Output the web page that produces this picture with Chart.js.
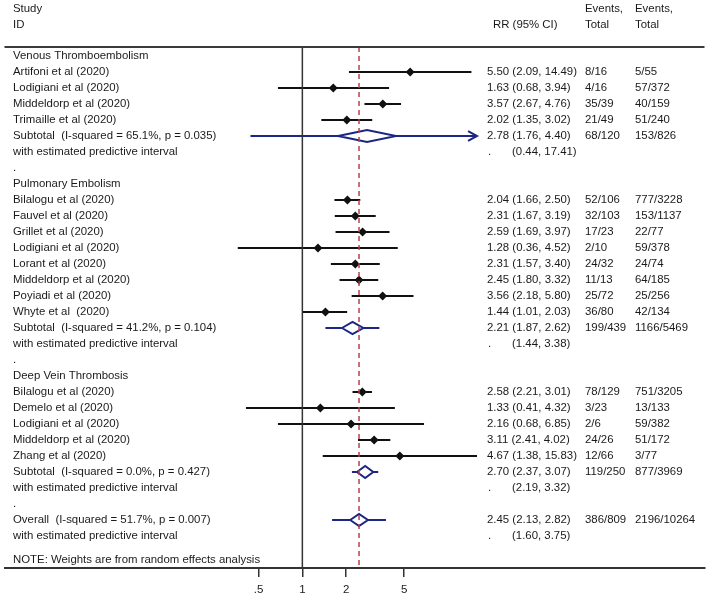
<!DOCTYPE html>
<html>
<head>
<meta charset="utf-8">
<script src="https://cdn.jsdelivr.net/npm/chart.js@4.4.0/dist/chart.umd.min.js"></script>
<style>
  body { margin: 0; background: #fff; }
  #wrap { width: 709px; height: 596px; }
</style>
</head>
<body>
<div id="wrap"><canvas id="forest" width="709" height="596"></canvas></div>
<script>
// study level data (RR with 95% CI, events/total in cases and controls)
var groupNames = ['Venous Thromboembolism', 'Pulmonary Embolism', 'Deep Vein Thrombosis'];
var studyNames = [
  'Artifoni et al (2020)', 'Lodigiani et al (2020)', 'Middeldorp et al (2020)', 'Trimaille et al (2020)',
  'Bilalogu et al (2020)', 'Fauvel et al (2020)', 'Grillet et al (2020)', 'Lodigiani et al (2020)',
  'Lorant et al (2020)', 'Middeldorp et al (2020)', 'Poyiadi et al (2020)', 'Whyte et al  (2020)',
  'Bilalogu et al (2020)', 'Demelo et al (2020)', 'Lodigiani et al (2020)', 'Middeldorp et al (2020)', 'Zhang et al (2020)'
];
var studyGroup = [0, 0, 0, 0, 1, 1, 1, 1, 1, 1, 1, 1, 2, 2, 2, 2, 2];
var rr     = [5.50, 1.63, 3.57, 2.02, 2.04, 2.31, 2.59, 1.28, 2.31, 2.45, 3.56, 1.44, 2.58, 1.33, 2.16, 3.11, 4.67];
var ciLow  = [2.09, 0.68, 2.67, 1.35, 1.66, 1.67, 1.69, 0.36, 1.57, 1.80, 2.18, 1.01, 2.21, 0.41, 0.68, 2.41, 1.38];
var ciHigh = [14.49, 3.94, 4.76, 3.02, 2.50, 3.19, 3.97, 4.52, 3.40, 3.32, 5.80, 2.03, 3.01, 4.32, 6.85, 4.02, 15.83];
var eventsCases = ['8/16', '4/16', '35/39', '21/49', '52/106', '32/103', '17/23', '2/10', '24/32', '11/13', '25/72', '36/80',
  '78/129', '3/23', '2/6', '24/26', '12/66'];
var eventsControls = ['5/55', '57/372', '40/159', '51/240', '777/3228', '153/1137', '22/77', '59/378', '24/74', '64/185',
  '25/256', '42/134', '751/3205', '13/133', '59/382', '51/172', '3/77'];

// pooled estimates: three subtotals, then overall
var pooledLabels = [
  'Subtotal  (I-squared = 65.1%, p = 0.035)',
  'Subtotal  (I-squared = 41.2%, p = 0.104)',
  'Subtotal  (I-squared = 0.0%, p = 0.427)',
  'Overall  (I-squared = 51.7%, p = 0.007)'
];
var pooledRR   = [2.78, 2.21, 2.70, 2.45];
var pooledLow  = [1.76, 1.87, 2.37, 2.13];
var pooledHigh = [4.40, 2.62, 3.07, 2.82];
var predLow    = [0.44, 1.44, 2.19, 1.60];
var predHigh   = [17.41, 3.38, 3.32, 3.75];
var pooledCases    = ['68/120', '199/439', '119/250', '386/809'];
var pooledControls = ['153/826', '1166/5469', '877/3969', '2196/10264'];

var tickValues = [0.5, 1, 2, 5];
var tickLabels = ['.5', '1', '2', '5'];

var navy = '#1b2685';
var fmt = function(v) { return v.toFixed(2); };
var plotMin = Math.min.apply(null, ciLow);
var plotMax = Math.max.apply(null, ciHigh);

var rows = [];
var datasets = [];
var markers = [];

function line(points, color, width) {
  datasets.push({
    data: points, showLine: true, borderColor: color, borderWidth: width,
    pointRadius: 0, fill: false, tension: 0
  });
}

function addPooled(k, r) {
  var lo = pooledLow[k], hi = pooledHigh[k], est = pooledRR[k];
  var pl = Math.max(predLow[k], plotMin), ph = Math.min(predHigh[k], plotMax);
  line([{x: pl, y: r}, {x: lo, y: r}], navy, 2);
  line([{x: hi, y: r}, {x: ph, y: r}], navy, 2);
  if (predHigh[k] > plotMax) {
    // interval runs off the plotted range: draw an arrow head
    var back = plotMax / Math.pow(10, 9 / 146);
    line([{x: back, y: r - 0.3}, {x: plotMax, y: r}, {x: back, y: r + 0.3}], navy, 2);
  }
  line([{x: lo, y: r}, {x: est, y: r - 0.38}, {x: hi, y: r}, {x: est, y: r + 0.38}, {x: lo, y: r}], navy, 2);
  rows.push({y: r, text: pooledLabels[k], rr: fmt(est) + ' (' + fmt(lo) + ', ' + fmt(hi) + ')',
    a: pooledCases[k], b: pooledControls[k]});
  rows.push({y: r + 1, text: 'with estimated predictive interval', pred: '(' + fmt(predLow[k]) + ', ' + fmt(predHigh[k]) + ')'});
}

var r = 0;
groupNames.forEach(function(g, gi) {
  rows.push({y: r, text: g});
  r++;
  studyNames.forEach(function(name, i) {
    if (studyGroup[i] !== gi) return;
    line([{x: ciLow[i], y: r}, {x: ciHigh[i], y: r}], '#111', 2);
    markers.push({x: rr[i], y: r});
    rows.push({y: r, text: name, rr: fmt(rr[i]) + ' (' + fmt(ciLow[i]) + ', ' + fmt(ciHigh[i]) + ')',
      a: eventsCases[i], b: eventsControls[i]});
    r++;
  });
  addPooled(gi, r);
  r += 2;
  rows.push({y: r, text: '.'});
  r++;
});
addPooled(3, r);
r += 2;
rows.push({y: r + 0.5, text: 'NOTE: Weights are from random effects analysis'});

var yTop = -0.5625, yBottom = 32;

// null line and overall estimate
datasets.unshift({data: [{x: pooledRR[3], y: yTop}, {x: pooledRR[3], y: yBottom}], showLine: true,
  borderColor: '#b8404c', borderWidth: 1.5, borderDash: [5, 4], pointRadius: 0});
datasets.unshift({data: [{x: 1, y: yTop}, {x: 1, y: yBottom}], showLine: true,
  borderColor: '#333', borderWidth: 1.5, pointRadius: 0});
datasets.push({data: markers, showLine: false, pointStyle: 'rectRot', pointRadius: 4.5,
  pointBackgroundColor: '#111', pointBorderWidth: 0});

var FONT = '11.4px "Liberation Sans", Arial, sans-serif';

var textPlugin = {
  id: 'forestText',
  afterDraw: function(chart) {
    var ctx = chart.ctx, ys = chart.scales.y, a = chart.chartArea;
    ctx.save();
    ctx.strokeStyle = '#3a3a3a';
    ctx.lineWidth = 2;
    ctx.beginPath();
    ctx.moveTo(a.left, a.top);
    ctx.lineTo(a.right, a.top);
    ctx.stroke();

    ctx.font = FONT;
    ctx.fillStyle = '#1a1a1a';
    ctx.textBaseline = 'middle';
    var h1 = ys.getPixelForValue(-2.95), h2 = ys.getPixelForValue(-1.95);
    ctx.fillText('Study', 13, h1);
    ctx.fillText('ID', 13, h2);
    ctx.fillText('RR (95% CI)', 493, h2);
    ctx.fillText('Events,', 585, h1);
    ctx.fillText('Total', 585, h2);
    ctx.fillText('Events,', 635, h1);
    ctx.fillText('Total', 635, h2);

    rows.forEach(function(row) {
      var py = ys.getPixelForValue(row.y);
      ctx.fillText(row.text, 13, py);
      if (row.rr) ctx.fillText(row.rr, 487, py);
      if (row.a) ctx.fillText(row.a, 585, py);
      if (row.b) ctx.fillText(row.b, 635, py);
      if (row.pred) {
        ctx.fillText('.', 488, py);
        ctx.fillText(row.pred, 512, py);
      }
    });
    ctx.restore();
  }
};

new Chart(document.getElementById('forest'), {
  type: 'scatter',
  data: {datasets: datasets},
  options: {
    responsive: false,
    animation: false,
    layout: {padding: {top: 47, left: 3, right: 4, bottom: 0}},
    plugins: {legend: {display: false}, tooltip: {enabled: false}},
    scales: {
      x: {
        type: 'logarithmic',
        min: 0.009,
        max: 578,
        afterBuildTicks: function(scale) {
          scale.ticks = tickValues.map(function(v) { return {value: v}; });
        },
        afterFit: function(scale) { scale.height = 28; },
        ticks: {
          color: '#222',
          font: {family: '"Liberation Sans", Arial, sans-serif', size: 11.5},
          padding: 6,
          autoSkip: false,
          maxRotation: 0,
          callback: function(v) { return tickLabels[tickValues.indexOf(v)]; }
        },
        grid: {drawOnChartArea: false, drawTicks: true, tickLength: 9, color: '#333', lineWidth: 1.5},
        border: {display: true, color: '#333', width: 2}
      },
      y: {
        type: 'linear',
        reverse: true,
        min: yTop,
        max: yBottom,
        display: false
      }
    }
  },
  plugins: [textPlugin]
});
</script>
</body>
</html>
